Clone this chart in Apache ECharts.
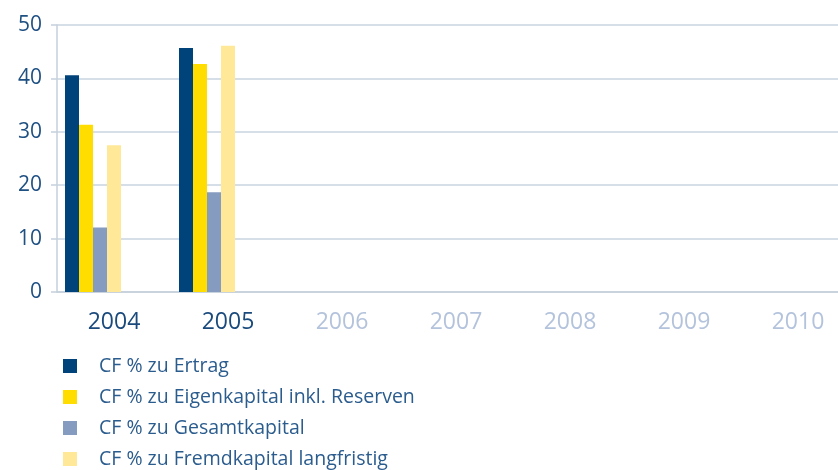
<!DOCTYPE html>
<html>
<head>
<meta charset="utf-8">
<script src="https://cdn.jsdelivr.net/npm/echarts@6/dist/echarts.min.js"></script>
<style>
  html, body { margin: 0; padding: 0; background: #fff; }
  #chart { width: 838px; height: 470px; }
</style>
</head>
<body>
<div id="chart"></div>
<script>
const years = ['2004', '2005', '2006', '2007', '2008', '2009', '2010'];
const activeYears = ['2004', '2005'];
const seriesNames = [
  'CF % zu Ertrag',
  'CF % zu Eigenkapital inkl. Reserven',
  'CF % zu Gesamtkapital',
  'CF % zu Fremdkapital langfristig'
];
const ertrag = [40.6, 45.7, null, null, null, null, null];
const eigenkapital = [31.3, 42.7, null, null, null, null, null];
const gesamtkapital = [12.1, 18.7, null, null, null, null, null];
const fremdkapital = [27.5, 46.1, null, null, null, null, null];
const colors = ['#00427a', '#ffdd00', '#869bc0', '#ffe998'];

const chart = echarts.init(document.getElementById('chart'));

const realSeries = [ertrag, eigenkapital, gesamtkapital, fremdkapital].map((d, i) => ({
  name: seriesNames[i],
  type: 'bar',
  data: d,
  barWidth: 14,
  barGap: '0%',
  itemStyle: { color: colors[i] },
}));
// empty slots so the bar group sits left in each year band
const spacerSeries = [0, 1, 2].map((i) => ({
  name: 'spacer' + i,
  type: 'bar',
  data: years.map(() => null),
  barWidth: 14,
  barGap: '0%',
  silent: true,
}));

// one legend per row, stacked
const legends = seriesNames.map((name, i) => ({
  data: [name],
  left: 63,
  top: 356 + i * 31,
  padding: 0,
  itemWidth: 14,
  itemHeight: 14,
  icon: 'rect',
  textStyle: { color: '#2b5c8e', fontSize: 19.5, padding: [0, 0, 0, 17] },
}));

chart.setOption({
  animation: false,
  textStyle: { fontFamily: 'Open Sans' },
  grid: { left: 57, top: 25, width: 798, height: 267, outerBoundsMode: 'none' },
  legend: legends,
  xAxis: {
    type: 'category',
    data: years.map((y) => ({
      value: y,
      textStyle: { color: activeYears.includes(y) ? '#1a4a7c' : '#b4c3dc' },
    })),
    axisLine: { lineStyle: { color: '#c5d0dc', width: 1.5 } },
    axisTick: { length: 10, lineStyle: { color: '#c5d0dc', width: 1.5 } },
    axisLabel: { fontSize: 23, margin: 19 },
  },
  yAxis: {
    type: 'value',
    min: 0,
    max: 50,
    interval: 10,
    axisLine: { show: true, lineStyle: { color: '#c5d0dc', width: 1.5 } },
    axisTick: { show: true, length: 6, lineStyle: { color: '#c5d0dc', width: 1.5 } },
    axisLabel: { fontSize: 21, color: '#1f5082', margin: 15 },
    splitLine: { lineStyle: { color: '#c8d3df', width: 1.5 } },
  },
  series: realSeries.concat(spacerSeries),
});
</script>
</body>
</html>
